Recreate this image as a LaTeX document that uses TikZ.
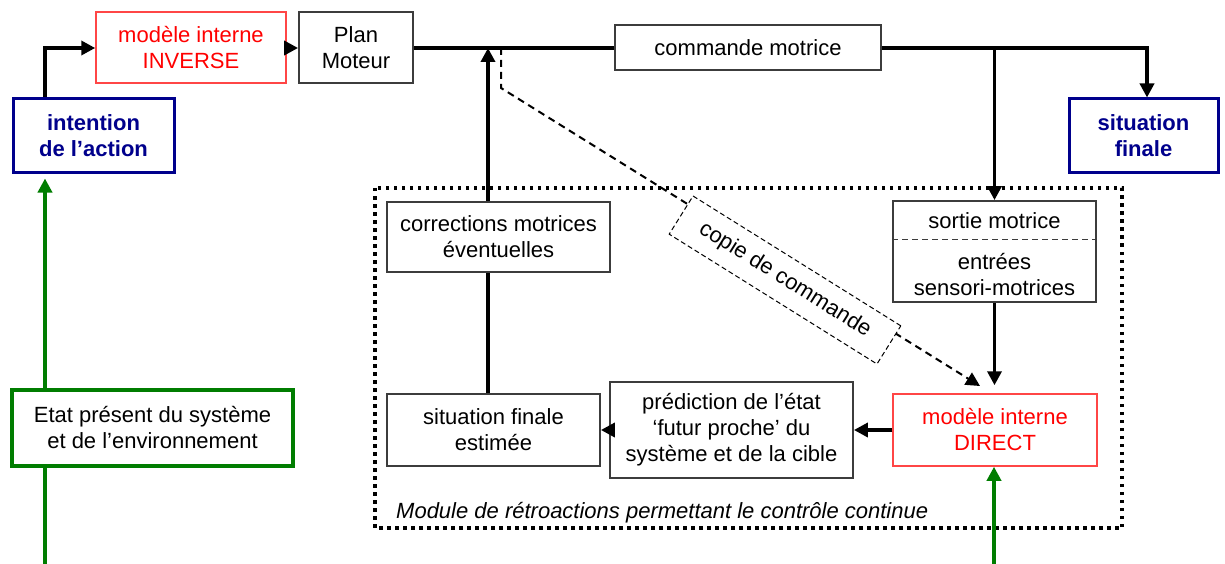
\documentclass[tikz,border=0pt]{standalone}
\usepackage{fontspec}
\setmainfont{Liberation Sans}
\usetikzlibrary{arrows.meta}
\definecolor{navyb}{RGB}{0,0,140}
\definecolor{gr}{RGB}{0,125,0}
\definecolor{rd}{RGB}{255,0,0}
\definecolor{rdb}{RGB}{255,70,70}
\definecolor{bx}{RGB}{60,60,60}
\tikzset{
  base/.style={rectangle, inner sep=0pt, align=center, fill=white, font=\fontsize{22}{26}\selectfont},
  graybox/.style={base, draw=bx, line width=1.8pt},
  redbox/.style={base, draw=rdb, line width=1.5pt, text=rd},
  bluebox/.style={base, draw=navyb, line width=3pt, text=navyb, font=\fontsize{22}{26}\selectfont\bfseries},
  greenbox/.style={base, draw=gr, line width=4pt},
  tip/.style={-{Triangle[length=14pt,width=14pt]}},
  conn/.style={line width=3.5pt, black},
  arr/.style={conn, tip},
  garr/.style={line width=4pt, gr, -{Triangle[length=14pt,width=14pt]}},
  gline/.style={line width=4pt, gr},
  darr/.style={line width=2pt, dash pattern=on 7pt off 5pt, -{Triangle[length=14pt,width=14pt]}},
  dotbox/.style={line width=3.5pt, dash pattern=on 3.5pt off 4.5pt},
}
\begin{document}
\begin{tikzpicture}[x=1pt,y=-1pt]
\useasboundingbox (0,0) rectangle (1225,564);
% nodes
\node[bluebox, minimum width=161pt, minimum height=74pt] (intention) at (93.5,136) {intention\\de l’action};
\node[redbox, minimum width=190pt, minimum height=71pt] (inverse) at (191,47.5) {modèle interne\\INVERSE};
\node[graybox, minimum width=114pt, minimum height=71pt] (plan) at (356,47.5) {Plan\\Moteur};
\node[graybox, minimum width=266pt, minimum height=45pt] (commande) at (748,47.5) {commande motrice};
\node[bluebox, minimum width=149pt, minimum height=74pt] (sitfin) at (1143.5,136) {situation\\finale};
\node[greenbox, minimum width=281pt, minimum height=76pt] (etat) at (152.5,428) {Etat présent du système\\et de l’environnement};

\draw[dotbox] (375,188) rectangle (1122,528);
\node[anchor=west, inner sep=0pt, font=\fontsize{22}{26}\selectfont\itshape] (module) at (396,513) {Module de rétroactions permettant le contrôle continue};

\node[graybox, minimum width=223pt, minimum height=70pt] (corrections) at (498.5,237) {corrections motrices\\éventuelles};
\node[graybox, minimum width=203pt, minimum height=101pt] (sortie) at (994.5,251.5) {};
\node[base, fill=none] (sortietxt) at (994.5,221) {sortie motrice};
\node[base, fill=none] (entreestxt) at (994.5,275) {entrées\\sensori-motrices};
\draw[bx, line width=1pt, dash pattern=on 6pt off 4pt] (sortie.west |- 0,239) -- (sortie.east |- 0,239);
\node[graybox, minimum width=213pt, minimum height=72pt] (estimee) at (493.5,430) {situation finale\\estimée};
\node[graybox, minimum width=243pt, minimum height=96pt] (prediction) at (731.5,430) {prédiction de l’état\\‘futur proche’ du\\système et de la cible};
\node[redbox, minimum width=204pt, minimum height=72pt] (direct) at (995,430) {modèle interne\\DIRECT};

% coordinates
\coordinate (cI) at (45,48);
\coordinate (cC) at (488,48);
\coordinate (d0) at (501,48);
\coordinate (d1) at (501,88);
\coordinate (dtip) at (980,386);
\coordinate (cS) at (1147,48);
\coordinate (gbot1) at (45,564);
\coordinate (gbot2) at (994,564);

% connectors
\draw[arr] (cI |- intention.north) -- (cI) -- (inverse.west |- cI);
\draw[arr] (inverse.east |- cI) -- (plan.west |- cI);
\draw[conn] (plan.east |- cI) -- (commande.west |- cI);
\draw[arr] (commande.east |- cS) -- (cS) -- (cS |- sitfin.north);
\draw[arr] (sortie.north |- cS) -- (sortie.north);
\draw[arr] (cC |- corrections.north) -- (cC);
\draw[conn] (cC |- estimee.north) -- (cC |- corrections.south);
\draw[arr] (prediction.west) -- (estimee.east);
\draw[arr] (direct.west) -- (prediction.east);
\draw[arr, shorten >=8pt] (sortie.south) -- (sortie.south |- direct.north);
\draw[darr] (d0) -- (d1) -- (dtip);
\node[base, draw=black, line width=1pt, dash pattern=on 5pt off 3pt, minimum width=245pt, minimum height=45pt, rotate=-32] (copie) at (785,280) {copie de commande};

\draw[gline] (gbot1) -- (etat.south -| gbot1);
\draw[garr, shorten >=4pt] (etat.north -| gbot1) -- (intention.south -| gbot1);
\draw[garr] (gbot2) -- (direct.south -| gbot2);
\end{tikzpicture}
\end{document}
